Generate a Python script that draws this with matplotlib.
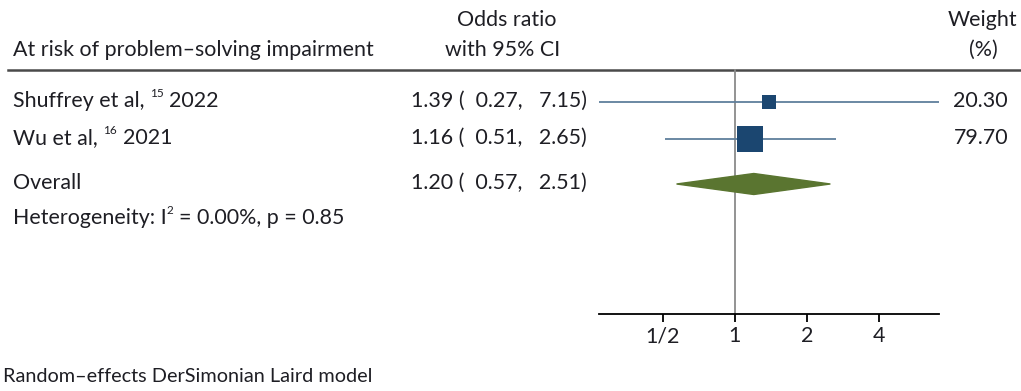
import matplotlib
matplotlib.use("Agg")
import matplotlib.pyplot as plt
from matplotlib.patches import Polygon

plt.rcParams['font.family'] = ['Lato', 'DejaVu Sans']

# Study-level results
studies = ['Shuffrey et al,', 'Wu et al,']
refs = ['15', '16']
years = ['2022', '2021']
odds = [1.39, 1.16]
ci_low = [0.27, 0.51]
ci_high = [7.15, 2.65]
weights = [20.30, 79.70]

# Pooled estimate
overall_or = 1.20
overall_low = 0.57
overall_high = 2.51
i2 = 0.00
p_het = 0.85

ticks = [0.5, 1, 2, 4]
tick_labels = ['1/2', '1', '2', '4']

W, H = 1021, 391
TXT = '#1e1e24'
FS = 15.4
SUP = 8.5

fig = plt.figure(figsize=(W / 100, H / 100), dpi=100)

# overlay for text, in pixel units (y down)
ov = fig.add_axes([0, 0, 1, 1])
ov.set_xlim(0, W)
ov.set_ylim(H, 0)
ov.axis('off')

# forest panel
top, bottom, left, right = 69, 314, 599, 939
ax = fig.add_axes([left / W, 1 - bottom / H, (right - left) / W, (bottom - top) / H])
ax.set_xscale('log', base=2)
ax.set_xlim(min(ci_low), max(ci_high))
ax.set_ylim(bottom, top)
ax.patch.set_alpha(0)
for s in ['top', 'left', 'right']:
    ax.spines[s].set_visible(False)
ax.spines['bottom'].set_linewidth(1.3)
ax.set_yticks([])
ax.set_xticks(ticks)
ax.set_xticklabels(tick_labels, fontsize=FS, color=TXT)
ax.minorticks_off()
ax.tick_params(axis='x', length=6, width=1.3, pad=3)

ax.axvline(1, color='#8a8a8a', lw=1.3, zorder=1)

row_y = [102, 139]
for o, lo, hi, w, y in zip(odds, ci_low, ci_high, weights, row_y):
    ax.hlines(y, lo, hi, color='#5f7f9c', lw=1.3, zorder=2)
    side = 2.9 * w ** 0.5
    ax.plot(o, y, marker='s', markersize=side * 0.72, color='#1b4670',
            markeredgewidth=0, zorder=3)

oy, dh = 184, 10.5
diamond = Polygon([(overall_low, oy), (overall_or, oy - dh),
                   (overall_high, oy), (overall_or, oy + dh)],
                  closed=True, color='#5a7530', zorder=3)
ax.add_patch(diamond)

# header
ov.plot([8, W], [70, 70], color='#4a4a4a', lw=1.8)
ov.text(13, 50, 'At risk of problem\u2013solving impairment', fontsize=FS,
        color=TXT, va='center')
ov.text(507, 20, 'Odds ratio', fontsize=FS, color=TXT, va='center', ha='center')
ov.text(503, 50, 'with 95% CI', fontsize=FS, color=TXT, va='center', ha='center')
ov.text(1017, 20, 'Weight', fontsize=FS, color=TXT, va='center', ha='right')
ov.text(983, 50, '(%)', fontsize=FS, color=TXT, va='center', ha='center')


def label_with_sup(x, y, head, sup, tail):
    t1 = ov.text(x, y, head, fontsize=FS, color=TXT, va='center')
    t2 = ov.annotate(sup, xy=(1, 0.62), xycoords=t1, xytext=(4, 0),
                     textcoords='offset points', fontsize=SUP, color=TXT,
                     va='bottom', ha='left')
    ov.annotate(tail, xy=(1, 0), xycoords=(t2, t1), xytext=(4, 0),
                textcoords='offset points', fontsize=FS, color=TXT,
                va='bottom', ha='left')


for name, r, yr, o, lo, hi, w, y in zip(studies, refs, years, odds, ci_low,
                                        ci_high, weights, row_y):
    label_with_sup(13, y - 1, name, r, yr)
    ov.text(587, y - 1, f'{o:.2f} (  {lo:.2f},   {hi:.2f})', fontsize=FS,
            color=TXT, va='center', ha='right')
    ov.text(1008, y - 1, f'{w:.2f}', fontsize=FS, color=TXT, va='center',
            ha='right')

ov.text(13, oy - 1, 'Overall', fontsize=FS, color=TXT, va='center')
ov.text(587, oy - 1, f'{overall_or:.2f} (  {overall_low:.2f},   {overall_high:.2f})',
        fontsize=FS, color=TXT, va='center', ha='right')

t1 = ov.text(13, 218, 'Heterogeneity: I', fontsize=FS, color=TXT, va='center')
t2 = ov.annotate('2', xy=(1, 0.62), xycoords=t1, xytext=(0, 0),
                 textcoords='offset points', fontsize=SUP, color=TXT,
                 va='bottom', ha='left')
ov.annotate(f'= {i2:.2f}%, p = {p_het:.2f}', xy=(1, 0), xycoords=(t2, t1),
            xytext=(4, 0), textcoords='offset points', fontsize=FS, color=TXT,
            va='bottom', ha='left')

ov.text(3, 376, 'Random\u2013effects DerSimonian Laird model', fontsize=14.3,
        color=TXT, va='center')

fig.savefig('out.png', dpi=100)
